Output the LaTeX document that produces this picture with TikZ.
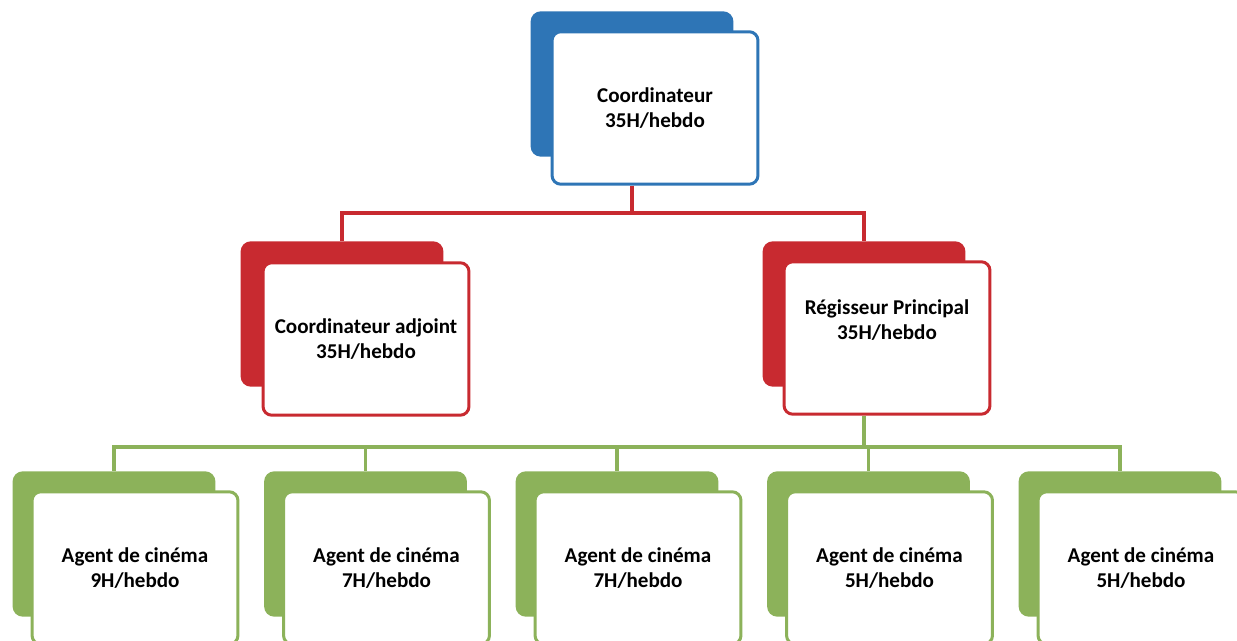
\documentclass[tikz,border=0pt]{standalone}
\usepackage{fontspec}
\setmainfont{Carlito}
\usetikzlibrary{positioning,calc}
\definecolor{bleu}{RGB}{46,117,182}
\definecolor{rouge}{RGB}{200,42,48}
\definecolor{vert}{RGB}{140,178,90}

\begin{document}
\begin{tikzpicture}[x=0.02cm,y=-0.02cm,
  back/.style={draw=#1,fill=#1,line width=1.6pt,rounded corners=5pt,minimum width=4.0cm,minimum height=2.85cm},
  front/.style={draw=#1,fill=white,line width=1.7pt,rounded corners=5pt,minimum width=4.12cm,minimum height=3.05cm,align=center,font=\bfseries\fontsize{12}{14.2}\selectfont},
  link/.style={draw=#1,line width=2.2pt}]
\useasboundingbox (0,0) rectangle (1237,641);
\clip (0,0) rectangle (1237,641);

% Coordinateur
\node[back=bleu] (coordB) at (632,84) {};
\node[front=bleu] (coord) at (655,108) {Coordinateur\\35H/hebdo};

% Second level
\node[back=rouge] (adjB) at (342,314) {};
\node[front=rouge] (adj) at (366,339) {Coordinateur adjoint\\35H/hebdo};
\node[back=rouge] (regB) at (864,314) {};
\node[front=rouge,text depth=21pt] (reg) at (887,338) {Régisseur Principal\\35H/hebdo};

% Agents
\foreach \x/\h [count=\i] in {135/9,386.5/7,638/7,889.5/5,1141/5}{
  \node[back=vert] (agentB\i) at (\x-21,544) {};
  \node[front=vert] (agent\i) at (\x,568) {Agent de cinéma\\\h H/hebdo};
}

% Links
\coordinate (busR) at (632,213);
\draw[link=rouge] (coord.south -| busR) -- (busR) -| (adjB.north);
\draw[link=rouge] (busR) -| (regB.north);

\coordinate (busV) at (864,447);
\draw[link=vert] (reg.south -| busV) -- (busV);
\foreach \i in {1,...,5}
  \draw[link=vert] (busV) -| (agentB\i.north);

\end{tikzpicture}
\end{document}
